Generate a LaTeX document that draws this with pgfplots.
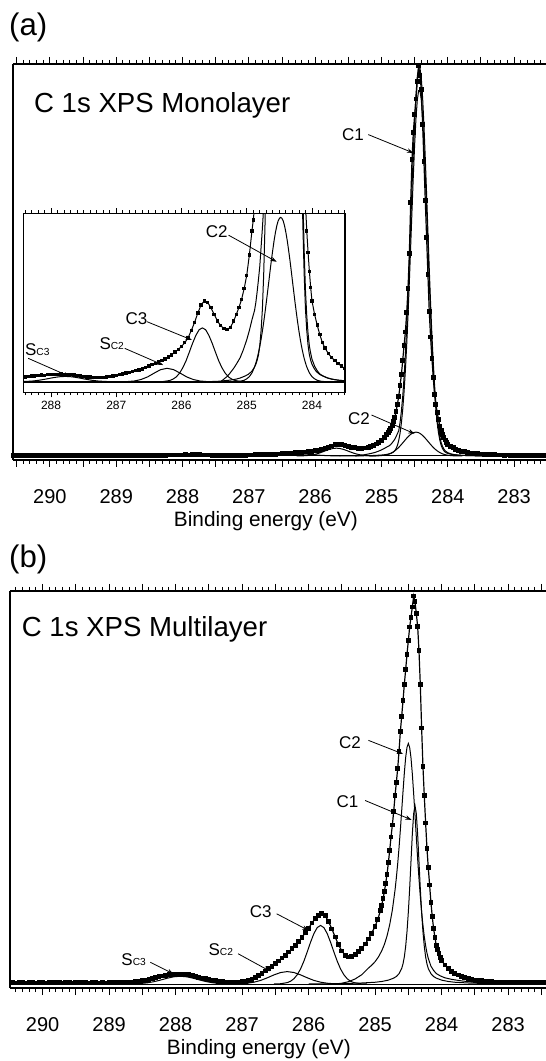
\documentclass[border=0pt]{standalone}
\usepackage{fontspec}
\setmainfont{Liberation Sans}
\usepackage{pgfplots}
\pgfplotsset{compat=1.18}
\usepackage{pgfplotstable}
\usetikzlibrary{arrows.meta}

\newcommand{\Sc}[1]{S{\fontsize{6}{7}\selectfont C#1}}

\tikzset{arr/.style={-{Stealth[length=3.2pt,width=2.2pt]}, line width=0.4pt},
         lab/.style={scale=0.85}}

\pgfplotsset{
 mainaxis/.style={
  scale only axis, x dir=reverse,
  axis x line*=box, axis y line*=left,
  ytick=\empty,
  xtick={282,...,291},
  minor x tick num=9,
  extra x ticks={282.5,283.5,...,290.5},
  extra x tick labels={},
  tick align=outside,
  major tick length=3.5pt, minor tick length=2pt,
  every tick/.style={black, line width=0.5pt},
  axis line style={black, line width=0.8pt},
  /pgf/number format/assume math mode=true,
  xticklabel style={anchor=base, yshift=-18.3pt},
  clip=true,
 },
 insetaxis/.style={
  scale only axis, x dir=reverse,
  xmin=283.494, xmax=288.425, ymin=-0.39, ymax=6.25,
  ytick=\empty, xtick={283,...,289}, minor x tick num=9,
  tick align=outside, major tick length=2.5pt, minor tick length=1.4pt,
  every tick/.style={black, line width=0.4pt},
  axis line style={black, line width=0.6pt},
  /pgf/number format/assume math mode=true,
  xticklabel style={font=\fontsize{6}{7}\selectfont, anchor=base, yshift=-6pt},
  axis background/.style={fill=white},
 },
 dat/.style={black, line width=0.6pt, mark=square*, mark size=0.9pt, mark options={solid}},
 datin/.style={black, line width=0.5pt, mark=square*, mark size=0.6pt, mark options={solid}},
 comp/.style={black, line width=0.5pt, no marks},
}

% ---------------- panel (a) data ----------------
\pgfplotstableread{
E u
290.55 0.15
290.50 0.20
290.45 0.12
290.40 0.16
290.35 0.20
290.30 0.13
290.25 0.17
290.20 0.11
290.15 0.18
290.10 0.15
290.05 0.12
290.00 0.18
289.95 0.15
289.90 0.10
289.85 0.17
289.80 0.15
289.75 0.20
289.70 0.13
289.65 0.15
289.60 0.11
289.55 0.18
289.50 0.15
289.45 0.13
289.40 0.19
289.35 0.15
289.30 0.11
289.25 0.16
289.20 0.14
289.15 0.18
289.10 0.13
289.05 0.15
289.00 0.17
288.95 0.12
288.90 0.16
288.85 0.14
288.80 0.18
288.75 0.15
288.70 0.13
288.65 0.17
288.60 0.15
288.55 0.18
288.50 0.16
288.45 0.19
288.40 0.18
288.35 0.20
288.30 0.22
288.25 0.21
288.20 0.24
288.15 0.25
288.10 0.24
288.05 0.27
288.00 0.26
287.95 0.28
287.90 0.27
287.85 0.29
287.80 0.28
287.75 0.28
287.70 0.26
287.65 0.25
287.60 0.23
287.55 0.21
287.50 0.20
287.45 0.18
287.40 0.17
287.35 0.16
287.30 0.15
287.25 0.15
287.20 0.16
287.15 0.17
287.10 0.19
287.05 0.21
287.00 0.23
286.95 0.26
286.90 0.29
286.85 0.32
286.80 0.35
286.75 0.38
286.70 0.41
286.65 0.44
286.60 0.48
286.55 0.53
286.50 0.58
286.45 0.63
286.40 0.68
286.35 0.73
286.30 0.79
286.25 0.85
286.20 0.92
286.15 1.00
286.10 1.10
286.05 1.20
286.00 1.31
285.95 1.45
285.90 1.63
285.85 1.90
285.80 2.20
285.75 2.55
285.70 2.85
285.65 3.00
285.60 2.95
285.55 2.75
285.50 2.50
285.45 2.26
285.40 2.08
285.35 1.98
285.30 1.94
285.25 2.02
285.20 2.25
285.16 2.50
285.12 2.75
285.08 3.05
285.04 3.45
285.00 3.95
284.96 4.70
284.92 5.60
284.90 6.00
284.88 6.50
284.86 7.10
284.84 7.90
284.82 8.90
284.80 9.80
284.78 11.4
284.76 13.3
284.74 15.3
284.72 18.0
284.70 20.9
284.68 24.5
284.66 28.3
284.64 31.8
284.62 36.8
284.60 43.0
284.58 52.0
284.56 65.0
284.54 76.0
284.52 83.0
284.50 87.5
284.48 91.5
284.46 96.0
284.44 100.0
284.42 97.5
284.40 94.0
284.38 85.0
284.36 75.5
284.34 65.5
284.32 56.0
284.30 46.5
284.28 37.0
284.26 30.5
284.24 25.0
284.22 20.2
284.20 15.8
284.18 13.2
284.16 11.2
284.14 9.3
284.12 7.7
284.10 6.6
284.08 5.6
284.06 4.8
284.04 4.1
284.02 3.5
284.00 3.0
283.96 2.5
283.92 2.1
283.88 1.75
283.84 1.45
283.80 1.25
283.75 1.05
283.70 0.90
283.65 0.78
283.60 0.68
283.55 0.58
283.50 0.50
283.45 0.44
283.40 0.38
283.35 0.34
283.30 0.30
283.25 0.27
283.20 0.26
283.15 0.22
283.10 0.24
283.05 0.20
283.00 0.22
282.95 0.17
282.90 0.20
282.85 0.18
282.80 0.21
282.75 0.16
282.70 0.19
282.65 0.15
282.60 0.19
282.55 0.16
282.50 0.18
}\dataA

\pgfplotstableread{
E u
285.63 0
285.43 0.02
285.26 0.06
285.16 0.10
285.10 0.14
285.06 0.18
285.02 0.22
284.98 0.27
284.94 0.35
284.92 0.40
284.90 0.47
284.88 0.55
284.86 0.65
284.84 0.80
284.82 1.00
284.80 1.35
284.78 1.90
284.76 2.70
284.74 4.00
284.72 5.83
284.70 8.45
284.68 11.9
284.66 16.4
284.64 21.9
284.62 28.5
284.60 36.2
284.58 44.7
284.56 53.8
284.54 63.0
284.52 71.9
284.50 79.9
284.48 86.6
284.46 91.3
284.44 93.7
284.42 93.7
284.40 91.3
284.38 86.6
284.36 79.9
284.34 71.9
284.32 63.0
284.30 53.8
284.28 44.7
284.26 36.2
284.24 28.5
284.22 21.9
284.20 16.4
284.18 11.9
284.16 8.45
284.14 5.83
284.12 4.00
284.10 2.70
284.08 1.90
284.06 1.35
284.04 1.00
284.02 0.80
284.00 0.65
283.98 0.55
283.96 0.47
283.94 0.40
283.92 0.35
283.88 0.27
283.84 0.22
283.80 0.18
283.76 0.14
283.70 0.10
283.60 0.06
283.43 0.02
283.23 0
}\ConeA

\pgfplotstableread{
E u
285.18 0
285.10 0.02
285.04 0.055
285.00 0.11
284.96 0.19
284.92 0.33
284.88 0.55
284.86 0.70
284.84 0.87
284.82 1.08
284.80 1.31
284.78 1.58
284.76 1.88
284.74 2.21
284.72 2.57
284.70 2.95
284.68 3.35
284.66 3.75
284.64 4.16
284.62 4.55
284.60 4.91
284.58 5.25
284.56 5.54
284.54 5.78
284.52 5.96
284.50 6.06
284.48 6.10
284.46 6.06
284.44 5.96
284.42 5.78
284.40 5.54
284.38 5.25
284.36 4.91
284.34 4.55
284.32 4.16
284.30 3.75
284.28 3.35
284.26 2.95
284.24 2.57
284.22 2.21
284.20 1.88
284.18 1.58
284.16 1.31
284.14 1.08
284.12 0.87
284.10 0.70
284.08 0.55
284.04 0.33
284.00 0.19
283.96 0.11
283.92 0.055
283.86 0.02
283.78 0
}\CtwoA

\pgfplotstableread{
E u
285.40 0
285.30 0.20
285.26 0.31
285.20 0.50
285.15 0.69
285.10 0.90
285.05 1.20
285.00 1.56
284.96 1.90
284.92 2.30
284.88 2.65
284.86 2.95
284.84 3.35
284.82 3.80
284.80 4.29
284.78 5.00
284.76 5.70
284.74 6.50
284.72 8.60
284.70 11.5
284.68 15.25
284.66 20.15
284.64 26.06
284.62 33.05
284.60 41.11
284.58 49.95
284.56 59.34
284.54 68.78
284.52 77.86
284.50 85.96
284.48 92.70
284.46 97.36
284.44 99.66
284.42 99.48
284.40 96.84
284.38 91.85
284.36 84.81
284.34 76.45
284.32 67.16
284.30 57.55
284.28 48.05
284.26 39.15
284.24 31.07
284.22 24.11
284.20 18.28
284.18 13.48
284.16 9.76
284.14 6.91
284.12 4.87
284.10 3.40
284.08 2.45
284.06 1.79
284.04 1.33
284.02 1.06
284.00 0.84
283.96 0.58
283.92 0.41
283.88 0.29
283.84 0.23
283.80 0.18
283.76 0.14
283.70 0.10
283.60 0.06
283.43 0.02
283.23 0
}\XA

\pgfplotstableread{
E u
286.28 0.01
286.18 0.047
286.13 0.10
286.08 0.18
286.03 0.32
285.98 0.52
285.93 0.78
285.88 1.10
285.83 1.43
285.78 1.72
285.73 1.93
285.68 2.00
285.63 1.93
285.58 1.72
285.53 1.43
285.48 1.10
285.43 0.78
285.38 0.52
285.33 0.32
285.28 0.18
285.23 0.10
285.18 0.047
285.08 0.01
}\CthreeA

\pgfplotstableread{
E u
286.82 0.01
286.72 0.03
286.62 0.085
286.52 0.18
286.42 0.32
286.32 0.45
286.22 0.50
286.12 0.45
286.02 0.32
285.92 0.18
285.82 0.085
285.72 0.03
285.62 0.01
}\SctwoA

\pgfplotstableread{
E u
288.48 0.005
288.38 0.013
288.28 0.029
288.18 0.058
288.08 0.10
287.98 0.147
287.88 0.185
287.78 0.20
287.68 0.185
287.58 0.147
287.48 0.10
287.38 0.058
287.28 0.029
287.18 0.013
287.08 0.005
}\ScthreeA

% ---------------- panel (b) data ----------------
\pgfplotstableread{
E u
290.50 0.30
290.45 0.36
290.40 0.27
290.35 0.33
290.30 0.30
290.25 0.25
290.20 0.34
290.15 0.30
290.10 0.28
290.05 0.35
290.00 0.30
289.95 0.26
289.90 0.32
289.85 0.29
289.80 0.35
289.75 0.30
289.70 0.27
289.65 0.33
289.60 0.30
289.55 0.25
289.50 0.31
289.45 0.29
289.40 0.34
289.35 0.30
289.30 0.26
289.25 0.30
289.20 0.33
289.15 0.28
289.10 0.31
289.05 0.27
289.00 0.30
288.95 0.33
288.90 0.29
288.85 0.34
288.80 0.36
288.75 0.38
288.70 0.42
288.65 0.47
288.60 0.55
288.55 0.66
288.50 0.80
288.45 0.98
288.40 1.18
288.35 1.40
288.30 1.62
288.25 1.85
288.20 2.05
288.15 2.25
288.10 2.40
288.05 2.52
288.00 2.58
287.95 2.60
287.90 2.56
287.85 2.48
287.80 2.35
287.75 2.18
287.70 1.98
287.65 1.76
287.60 1.54
287.55 1.32
287.50 1.12
287.45 0.95
287.40 0.80
287.35 0.68
287.30 0.58
287.25 0.50
287.20 0.46
287.15 0.44
287.10 0.45
287.05 0.48
287.00 0.55
286.95 0.70
286.90 0.92
286.85 1.22
286.80 1.60
286.75 2.10
286.70 2.70
286.65 3.35
286.60 4.00
286.55 4.60
286.50 5.25
286.45 5.95
286.40 6.70
286.35 7.45
286.30 8.25
286.25 9.10
286.20 10.00
286.15 10.95
286.10 12.00
286.05 13.20
286.00 14.40
285.95 15.70
285.90 16.90
285.85 17.75
285.80 18.10
285.75 17.60
285.70 16.10
285.65 14.20
285.60 12.10
285.55 10.10
285.50 8.50
285.45 7.45
285.40 6.95
285.35 7.05
285.30 7.55
285.25 8.30
285.20 9.20
285.15 10.30
285.10 11.60
285.05 13.10
285.00 14.90
284.96 16.60
284.92 18.90
284.90 20.30
284.88 22.00
284.86 23.80
284.84 26.00
284.82 28.30
284.80 31.30
284.78 34.50
284.76 37.90
284.74 41.00
284.72 44.50
284.70 48.50
284.68 52.00
284.66 55.50
284.64 60.00
284.62 65.00
284.60 69.00
284.58 73.00
284.56 77.30
284.54 81.00
284.52 85.00
284.50 88.50
284.48 92.00
284.46 94.50
284.44 97.20
284.42 100.0
284.40 98.50
284.38 95.50
284.36 92.20
284.34 86.00
284.32 77.20
284.30 66.00
284.28 56.00
284.26 48.50
284.24 41.50
284.22 35.00
284.20 30.00
284.18 25.50
284.16 21.00
284.14 17.30
284.12 14.30
284.10 12.00
284.08 10.00
284.06 8.80
284.04 7.80
284.02 6.90
284.00 6.10
283.95 4.90
283.90 4.00
283.85 3.20
283.80 2.70
283.75 2.30
283.70 1.95
283.65 1.65
283.60 1.40
283.55 1.20
283.50 1.02
283.45 0.90
283.40 0.80
283.35 0.70
283.30 0.62
283.25 0.55
283.20 0.50
283.15 0.47
283.10 0.44
283.05 0.40
283.00 0.42
282.95 0.36
282.90 0.38
282.85 0.33
282.80 0.36
282.75 0.31
282.70 0.34
282.65 0.30
282.60 0.33
282.55 0.29
282.50 0.32
282.45 0.30
}\dataB

\pgfplotstableread{
E u
286.00 0
285.70 0.05
285.40 0.16
285.20 0.26
285.00 0.45
284.90 0.65
284.80 1.00
284.72 1.52
284.68 1.94
284.64 2.65
284.60 4.0
284.58 5.2
284.56 7.0
284.54 9.7
284.52 13.5
284.50 18.5
284.48 24.6
284.46 31.6
284.44 38.6
284.42 43.9
284.40 46.0
284.38 43.9
284.36 38.6
284.34 31.6
284.32 24.6
284.30 18.5
284.28 13.5
284.26 9.7
284.24 7.0
284.22 5.2
284.20 4.0
284.16 2.65
284.12 1.94
284.08 1.52
284.00 1.00
283.90 0.65
283.80 0.45
283.60 0.26
283.40 0.16
283.10 0.05
282.80 0
}\ConeB

\pgfplotstableread{
E u
285.60 0
285.50 0.2
285.40 0.6
285.30 1.3
285.20 2.4
285.10 4.1
285.05 4.85
285.00 5.76
284.95 6.96
284.90 8.55
284.86 10.2
284.82 12.4
284.78 15.3
284.74 19.1
284.70 24.2
284.68 27.4
284.66 31.0
284.64 35.1
284.62 39.7
284.60 44.6
284.58 49.6
284.56 54.4
284.54 58.4
284.52 61.0
284.50 62.0
284.48 61.0
284.46 58.3
284.44 54.2
284.42 49.1
284.40 43.6
284.38 37.9
284.36 32.3
284.34 27.2
284.32 22.6
284.30 18.5
284.28 15.1
284.26 12.2
284.24 9.9
284.22 8.0
284.20 6.6
284.16 4.6
284.12 3.5
284.08 2.7
284.02 2.1
283.95 1.6
283.85 1.2
283.70 0.8
283.50 0.4
283.30 0
}\CtwoB

\pgfplotstableread{
E u
286.52 0
286.42 0.07
286.32 0.36
286.27 0.72
286.22 1.37
286.17 2.40
286.12 3.91
286.07 5.91
286.02 8.29
285.97 10.78
285.92 13.0
285.87 14.54
285.82 15.1
285.77 14.54
285.72 13.0
285.67 10.78
285.62 8.29
285.57 5.91
285.52 3.91
285.47 2.40
285.42 1.37
285.37 0.72
285.32 0.36
285.22 0.07
285.12 0
}\CthreeB

\pgfplotstableread{
E u
287.12 0.02
287.02 0.07
286.92 0.20
286.82 0.47
286.72 0.93
286.62 1.60
286.52 2.35
286.42 2.96
286.32 3.20
286.22 2.96
286.12 2.35
286.02 1.60
285.92 0.93
285.82 0.47
285.72 0.20
285.62 0.07
285.52 0.02
}\SctwoB

\pgfplotstableread{
E u
288.63 0.05
288.53 0.13
288.43 0.29
288.33 0.58
288.23 1.00
288.13 1.47
288.03 1.85
287.93 2.00
287.83 1.85
287.73 1.47
287.63 1.00
287.53 0.58
287.43 0.29
287.33 0.13
287.23 0.05
}\ScthreeB

\begin{document}
\begin{tikzpicture}
\useasboundingbox (0,0) rectangle (273pt,530.5pt);

% ================= panel (a) =================
\begin{axis}[mainaxis, at={(6.5pt,300.5pt)}, anchor=south west,
  width=266.5pt, height=198pt,
  xmin=282.52, xmax=290.556, ymin=-1.03, ymax=100.5]
\addplot[comp] coordinates {(282.52,0) (290.556,0)};
\addplot[comp] table[x=E,y=u] {\ScthreeA};
\addplot[comp] table[x=E,y=u] {\SctwoA};
\addplot[comp] table[x=E,y=u] {\CthreeA};
\addplot[comp] table[x=E,y=u] {\CtwoA};
\addplot[comp] table[x=E,y=u] {\ConeA};
\addplot[comp] table[x=E,y=u] {\XA};
\addplot[dat] table[x=E,y=u] {\dataA};
\node[lab] at (axis cs:285.43,82.4) {C1};
\draw[arr] (axis cs:285.20,82.4) -- (axis cs:284.52,77.7);
\node[lab] at (axis cs:285.34,9.6) {C2};
\draw[arr] (axis cs:285.15,10.5) -- (axis cs:284.50,5.7);
\end{axis}

% ---- inset ----
\begin{axis}[insetaxis, at={(11.65pt,334.35pt)}, anchor=south west,
  width=160.85pt, height=89.5pt]
\addplot[black, line width=0.8pt] coordinates {(283.4,0) (288.5,0)};
\addplot[comp] table[x=E,y=u] {\ScthreeA};
\addplot[comp] table[x=E,y=u] {\SctwoA};
\addplot[comp] table[x=E,y=u] {\CthreeA};
\addplot[comp] table[x=E,y=u] {\CtwoA};
\addplot[comp] table[x=E,y=u] {\ConeA};
\addplot[comp] table[x=E,y=u] {\XA};
\addplot[datin] table[x=E,y=u] {\dataA};
\node[lab] at (axis cs:285.46,5.57) {C2};
\draw[arr] (axis cs:285.28,5.44) -- (axis cs:284.54,4.45);
\node[lab] at (axis cs:286.69,2.33) {C3};
\draw[arr] (axis cs:286.53,2.23) -- (axis cs:285.84,1.55);
\node[lab] at (axis cs:287.07,1.40) {\Sc{2}};
\draw[arr] (axis cs:286.87,1.24) -- (axis cs:286.28,0.62);
\node[lab] at (axis cs:288.21,1.21) {\Sc{3}};
\draw[arr] (axis cs:288.35,0.87) -- (axis cs:287.71,0.19);
\end{axis}

\node[anchor=base west, inner sep=0, scale=1.56] at (4.25pt,512.5pt) {(a)};
\node[anchor=base west, inner sep=0, scale=1.38] at (16.8pt,474.25pt) {C 1s XPS Monolayer};
\node[anchor=base, inner sep=0, scale=1.04] at (132.95pt,267.15pt) {Binding energy (eV)};

% ================= panel (b) =================
\begin{axis}[mainaxis, at={(5pt,36.5pt)}, anchor=south west,
  width=268pt, height=198.5pt,
  xmin=282.43, xmax=290.49, ymin=-1.03, ymax=101.3]
\addplot[comp] coordinates {(282.43,0) (290.49,0)};
\addplot[comp] table[x=E,y=u] {\ScthreeB};
\addplot[comp] table[x=E,y=u] {\SctwoB};
\addplot[comp] table[x=E,y=u] {\CthreeB};
\addplot[comp] table[x=E,y=u] {\CtwoB};
\addplot[comp] table[x=E,y=u] {\ConeB};
\addplot[dat] table[x=E,y=u] {\dataB};
\node[lab] at (axis cs:285.378,62.3) {C2};
\draw[arr] (axis cs:285.10,62.8) -- (axis cs:284.58,59.3);
\node[lab] at (axis cs:285.415,47.0) {C1};
\draw[arr] (axis cs:285.15,47.3) -- (axis cs:284.45,42.3);
\node[lab] at (axis cs:286.72,18.6) {C3};
\draw[arr] (axis cs:286.48,18.1) -- (axis cs:286.0,13.8);
\node[lab] at (axis cs:287.32,8.9) {\Sc{2}};
\draw[arr] (axis cs:287.06,7.8) -- (axis cs:286.58,3.3);
\node[lab] at (axis cs:288.63,6.3) {\Sc{3}};
\draw[arr] (axis cs:288.38,5.6) -- (axis cs:288.03,2.6);
\end{axis}

\node[anchor=base west, inner sep=0, scale=1.56] at (4.25pt,246.5pt) {(b)};
\node[anchor=base west, inner sep=0, scale=1.38] at (10.65pt,212pt) {C 1s XPS Multilayer};
\node[anchor=base, inner sep=0, scale=1.04] at (129.45pt,3.15pt) {Binding energy (eV)};
\end{tikzpicture}
\end{document}
